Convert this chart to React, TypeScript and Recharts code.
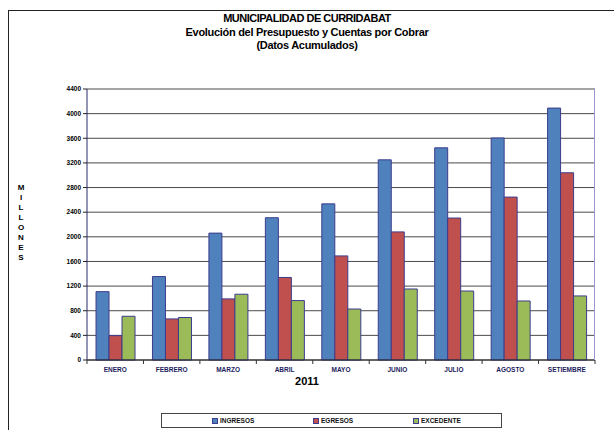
import { BarChart, Bar, XAxis, YAxis, CartesianGrid } from 'recharts';

// Datos acumulados (millones de colones)
const meses = ['ENERO', 'FEBRERO', 'MARZO', 'ABRIL', 'MAYO', 'JUNIO', 'JULIO', 'AGOSTO', 'SETIEMBRE'];
const ingresos = [1110, 1355, 2060, 2310, 2535, 3250, 3445, 3605, 4090];
const egresos = [395, 667, 992, 1340, 1690, 2080, 2305, 2645, 3040];
const excedente = [710, 690, 1068, 965, 828, 1153, 1120, 958, 1040];
const yTicks = [0, 400, 800, 1200, 1600, 2000, 2400, 2800, 3200, 3600, 4000, 4400];

const series = [
  { key: 'ingresos', name: 'INGRESOS', color: '#4F81BD' },
  { key: 'egresos', name: 'EGRESOS', color: '#C0504D' },
  { key: 'excedente', name: 'EXCEDENTE', color: '#9BBB59' },
];

const data = meses.map((mes, i) => ({
  mes,
  ingresos: ingresos[i],
  egresos: egresos[i],
  excedente: excedente[i],
}));

const FONT = '"Liberation Sans", Arial, sans-serif';
const HALF_BAND = (595 - 87) / meses.length / 2;

function MesTick(props: any) {
  const { x, y, payload, index } = props;
  return (
    <g>
      <line x1={x - HALF_BAND} y1={y - 8} x2={x - HALF_BAND} y2={y - 4} stroke="#333" />
      {index === meses.length - 1 && (
        <line x1={x + HALF_BAND} y1={y - 8} x2={x + HALF_BAND} y2={y - 4} stroke="#333" />
      )}
      <text x={x} y={y + 4} textAnchor="middle" fontSize={6.5} fontWeight="bold" fill="#1c1c5c" fontFamily={FONT}>
        {payload.value}
      </text>
    </g>
  );
}

function LeyendaCaja() {
  return (
    <div
      style={{
        position: 'absolute',
        left: 161,
        top: 413,
        border: '1px solid #444',
        width: 341,
        height: 15,
        boxSizing: 'border-box',
        fontFamily: FONT,
        fontSize: 6.5,
        fontWeight: 'bold',
        color: '#111',
      }}
    >
      {series.map((s, i) => (
        <div
          key={s.key}
          style={{ position: 'absolute', left: [50, 151, 251][i], top: 3, display: 'flex', alignItems: 'center', lineHeight: '7px' }}
        >
          <span style={{ display: 'inline-block', width: 4, height: 4, background: s.color, border: '0.5px solid #3c3c8c', marginRight: 2 }} />
          {s.name}
        </div>
      ))}
    </div>
  );
}

export default function App() {
  return (
    <div style={{ position: 'absolute', left: 0, top: 0, width: 614, height: 430, background: '#fff', overflow: 'hidden' }}>
      <div
        style={{
          position: 'absolute',
          left: 8,
          top: 10,
          width: 620,
          height: 440,
          borderLeft: '1px solid #222',
          borderTop: '1px solid #222',
        }}
      />
      <div
        style={{
          position: 'absolute',
          left: 0,
          width: 614,
          top: 12,
          textAlign: 'center',
          fontFamily: FONT,
          fontWeight: 'bold',
          fontSize: 11,
          lineHeight: '13.5px',
          color: '#000',
        }}
      >
        <div style={{ letterSpacing: -0.5 }}>MUNICIPALIDAD DE CURRIDABAT</div>
        <div style={{ letterSpacing: -0.3 }}>Evolución del Presupuesto y Cuentas por Cobrar</div>
        <div style={{ letterSpacing: -0.3 }}>(Datos Acumulados)</div>
      </div>
      <div
        style={{
          position: 'absolute',
          left: 16,
          top: 183,
          width: 10,
          textAlign: 'center',
          fontFamily: FONT,
          fontWeight: 'bold',
          fontSize: 8,
          lineHeight: '10px',
        }}
      >
        {'MILLONES'.split('').map((c, i) => (
          <div key={i}>{c}</div>
        ))}
      </div>
      <div
        style={{
          position: 'absolute',
          left: 0,
          width: 614,
          top: 375,
          textAlign: 'center',
          fontFamily: FONT,
          fontWeight: 'bold',
          fontSize: 11,
        }}
      >
        2011
      </div>
      <BarChart
        width={614}
        height={430}
        data={data}
        margin={{ top: 89, right: 19, bottom: 40, left: 0 }}
        barCategoryGap="16%"
        barGap={0}
        style={{ position: 'absolute', left: 0, top: 0 }}
      >
        <CartesianGrid vertical={false} stroke="#4a4a4a" strokeWidth={1} />
        <XAxis
          dataKey="mes"
          height={30}
          axisLine={{ stroke: '#222' }}
          tickLine={false}
          tick={<MesTick />}
          interval={0}
        />
        <YAxis
          width={87}
          domain={[0, 4400]}
          ticks={yTicks}
          interval={0}
          axisLine={{ stroke: '#2a2a6a' }}
          tickLine={{ stroke: '#222' }}
          tickSize={4}
          tick={{ fontSize: 6.5, fontWeight: 'bold', fill: '#000', fontFamily: FONT }}
        />
        {series.map((s) => (
          <Bar
            key={s.key}
            dataKey={s.key}
            name={s.name}
            fill={s.color}
            stroke="#3c3c8c"
            strokeWidth={1}
            isAnimationActive={false}
          />
        ))}
      </BarChart>
      <LeyendaCaja />
      <div
        style={{
          position: 'absolute',
          left: 594,
          top: 89,
          width: 1,
          height: 271,
          background: '#9a9ad0',
        }}
      />
    </div>
  );
}
